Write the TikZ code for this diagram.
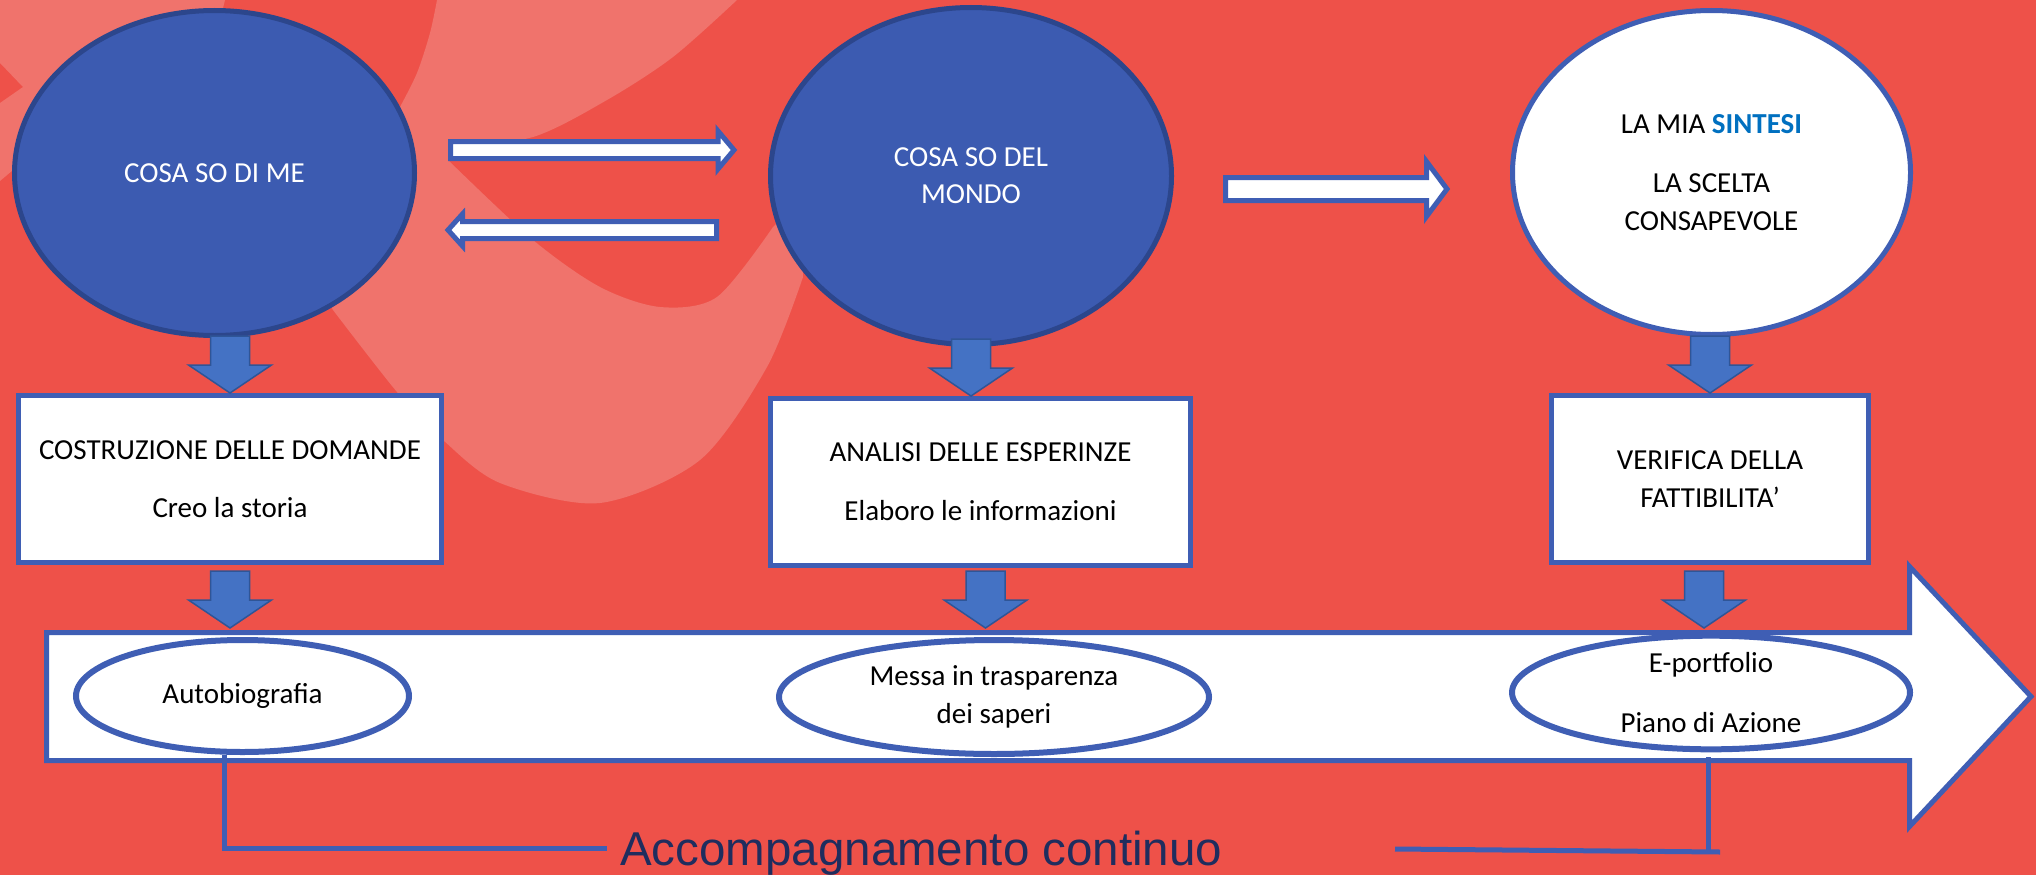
\documentclass[tikz,border=0pt]{standalone}
\usepackage{fontspec}
\setmainfont{Carlito}
\newfontfamily\arialf{Liberation Sans}
\usetikzlibrary{shapes.geometric,calc}
\definecolor{bgred}{HTML}{EE5149}
\definecolor{bgpink}{HTML}{F0736C}
\definecolor{efill}{HTML}{3C5BB1}
\definecolor{edraw}{HTML}{2C468C}
\definecolor{lineblue}{HTML}{3F5EB4}
\definecolor{arrfill}{HTML}{4472C4}
\definecolor{arrdraw}{HTML}{2F5597}
\definecolor{navy}{HTML}{1F2D5E}
\definecolor{sintesi}{HTML}{0070C0}
% block arrow: #1 style, #2 tail coordinate, #3 tip coordinate, #4 shaft half width, #5 head half width, #6 head length
\newcommand\blockarr[6]{%
  \path ($(#3)!#6!(#2)$) coordinate (hb);
  \draw[#1] ($(#2)!#4!90:(#3)$) -- ($(hb)!#4!90:(#3)$) -- ($(hb)!#5!90:(#3)$) -- (#3)
    -- ($(hb)!#5!-90:(#3)$) -- ($(hb)!#4!-90:(#3)$) -- ($(#2)!#4!-90:(#3)$) -- cycle;}
\tikzset{
  txt/.style={font=\fontsize{29}{37}\selectfont, align=center},
  bigell/.style={ellipse, line width=5pt, inner sep=0pt, txt},
  box/.style={rectangle, draw=lineblue, fill=white, line width=5pt, inner sep=0pt, txt},
  smallell/.style={ellipse, draw=lineblue, fill=white, line width=6pt, inner sep=0pt, txt},
  downarr/.style={fill=arrfill, draw=arrdraw, line width=1.5pt, line join=miter},
  whitearr/.style={fill=white, draw=lineblue, line width=5pt, line join=miter},
  conn/.style={draw=lineblue, line width=5pt},
}
\begin{document}
\begin{tikzpicture}[x=1pt,y=-1pt]
\useasboundingbox (0,0) rectangle (2036,875);
\clip (0,0) rectangle (2036,875);
% background
\fill[bgred] (0,0) rectangle (2036,875);
\fill[bgpink] (0,0) -- (225,0) -- (200,100) -- (100,150) -- (13,170) -- (0,181) -- (0,103) -- (23,87) -- (0,63) -- cycle;
\fill[bgpink] (437,0) -- (737,0)
  -- plot[smooth] coordinates {(737,0) (673,57) (607,100) (533,137) (448,148)}
  -- (448,160)
  -- plot[smooth] coordinates {(448,160) (533,240) (600,287) (660,307) (717,297) (773,227)}
  -- (800,200) -- (803,277)
  -- plot[smooth] coordinates {(803,277) (767,367) (700,460) (600,503) (500,483) (443,440) (397,392) (333,310)}
  -- (300,250) -- (400,107)
  -- plot[smooth] coordinates {(400,107) (417,73) (430,33) (437,0)} -- cycle;

% timeline arrow
\coordinate (bs) at (46.5,696.5);
\coordinate (bt) at (2031,696.5);
\coordinate (btop) at (0,628);
\blockarr{whitearr}{bs}{bt}{64pt}{130pt}{121.5pt}

% ellipses on the timeline
\node[smallell, minimum width=333pt, minimum height=112pt] (a1) at (242.5,696) {Autobiografia};
\node[smallell, minimum width=430pt, minimum height=114pt] (a2) at (994,697) {Messa in trasparenza\\[1pt]dei saperi};
\node[smallell, minimum width=398pt, minimum height=109pt] (a3) at (1711,692.5) {E-portfolio\\[23pt]Piano di Azione};

% boxes
\node[box, minimum width=423pt, minimum height=167pt] (b1) at (230,479) {COSTRUZIONE DELLE DOMANDE\\[21pt]Creo la storia};
\node[box, minimum width=420pt, minimum height=167pt] (b2) at (980.5,482) {ANALISI DELLE ESPERINZE\\[22pt]Elaboro le informazioni};
\node[box, minimum width=317pt, minimum height=167pt] (b3) at (1710,479) {VERIFICA DELLA\\[1pt]FATTIBILITA’};

% big ellipses
\node[bigell, fill=efill, draw=edraw, text=white, minimum width=400pt, minimum height=325pt] (e1) at (214.5,173) {COSA SO DI ME};
\node[bigell, fill=efill, draw=edraw, text=white, minimum width=401pt, minimum height=337pt] (e2) at (971,176) {COSA SO DEL\\MONDO};
\node[bigell, fill=white, draw=lineblue, minimum width=398pt, minimum height=324pt] (e3) at (1711.5,172.5) {LA MIA \textcolor{sintesi}{\textbf{SINTESI}}\\[22pt]LA SCELTA\\[1pt]CONSAPEVOLE};

% down arrows: ellipses -> boxes
\coordinate (d1t) at (b1.north);
\coordinate (d1s) at ($(d1t)+(0,-57)$);
\coordinate (d2t) at (e2.south |- b2.north);
\coordinate (d2s) at ($(d2t)+(0,-57)$);
\coordinate (d3t) at (b3.north);
\coordinate (d3s) at ($(d3t)+(0,-57)$);
\blockarr{downarr}{d1s}{d1t}{19.5pt}{41.5pt}{28pt}
\blockarr{downarr}{d2s}{d2t}{19.5pt}{41.5pt}{28pt}
\blockarr{downarr}{d3s}{d3t}{19.5pt}{41.5pt}{28pt}

% down arrows: boxes -> timeline
\coordinate (f1t) at (b1.south |- btop);
\coordinate (f1s) at ($(f1t)+(0,-57)$);
\coordinate (f2t) at ($(b2.south |- btop)+(5,0)$);
\coordinate (f2s) at ($(f2t)+(0,-57)$);
\coordinate (f3t) at ($(b3.south |- btop)+(-6,0)$);
\coordinate (f3s) at ($(f3t)+(0,-57)$);
\blockarr{downarr}{f1s}{f1t}{19.5pt}{41.5pt}{28pt}
\blockarr{downarr}{f2s}{f2t}{19.5pt}{41.5pt}{28pt}
\blockarr{downarr}{f3s}{f3t}{19.5pt}{41.5pt}{28pt}

% horizontal white arrows between the big ellipses
\coordinate (r1s) at (450.5,150);
\coordinate (r1t) at (734,150);
\coordinate (l1s) at (716.5,230);
\coordinate (l1t) at (448,230);
\coordinate (r2s) at (1225.5,189);
\coordinate (r2t) at (1447,189);
\blockarr{whitearr}{r1s}{r1t}{8.5pt}{19pt}{16pt}
\blockarr{whitearr}{l1s}{l1t}{8.5pt}{16pt}{14.5pt}
\blockarr{whitearr}{r2s}{r2t}{11.5pt}{27.5pt}{20.5pt}

% accompagnamento
\node[anchor=base west, inner sep=0pt, text=navy, font=\arialf\fontsize{47.5}{55}\selectfont] (acc) at (620,865) {Accompagnamento continuo};
\coordinate (lb) at (224,848);
\coordinate (ll) at (607,848);
\draw[conn] (a1.south -| lb) -- (lb) -- (ll);
\coordinate (rt) at (1708,757);
\coordinate (rb) at (1708,851);
\coordinate (rl) at (1395,849);
\coordinate (rr) at (1720,852);
\draw[conn] (rt) -- (rb);
\draw[conn] (rl) -- (rr);
\end{tikzpicture}
\end{document}
